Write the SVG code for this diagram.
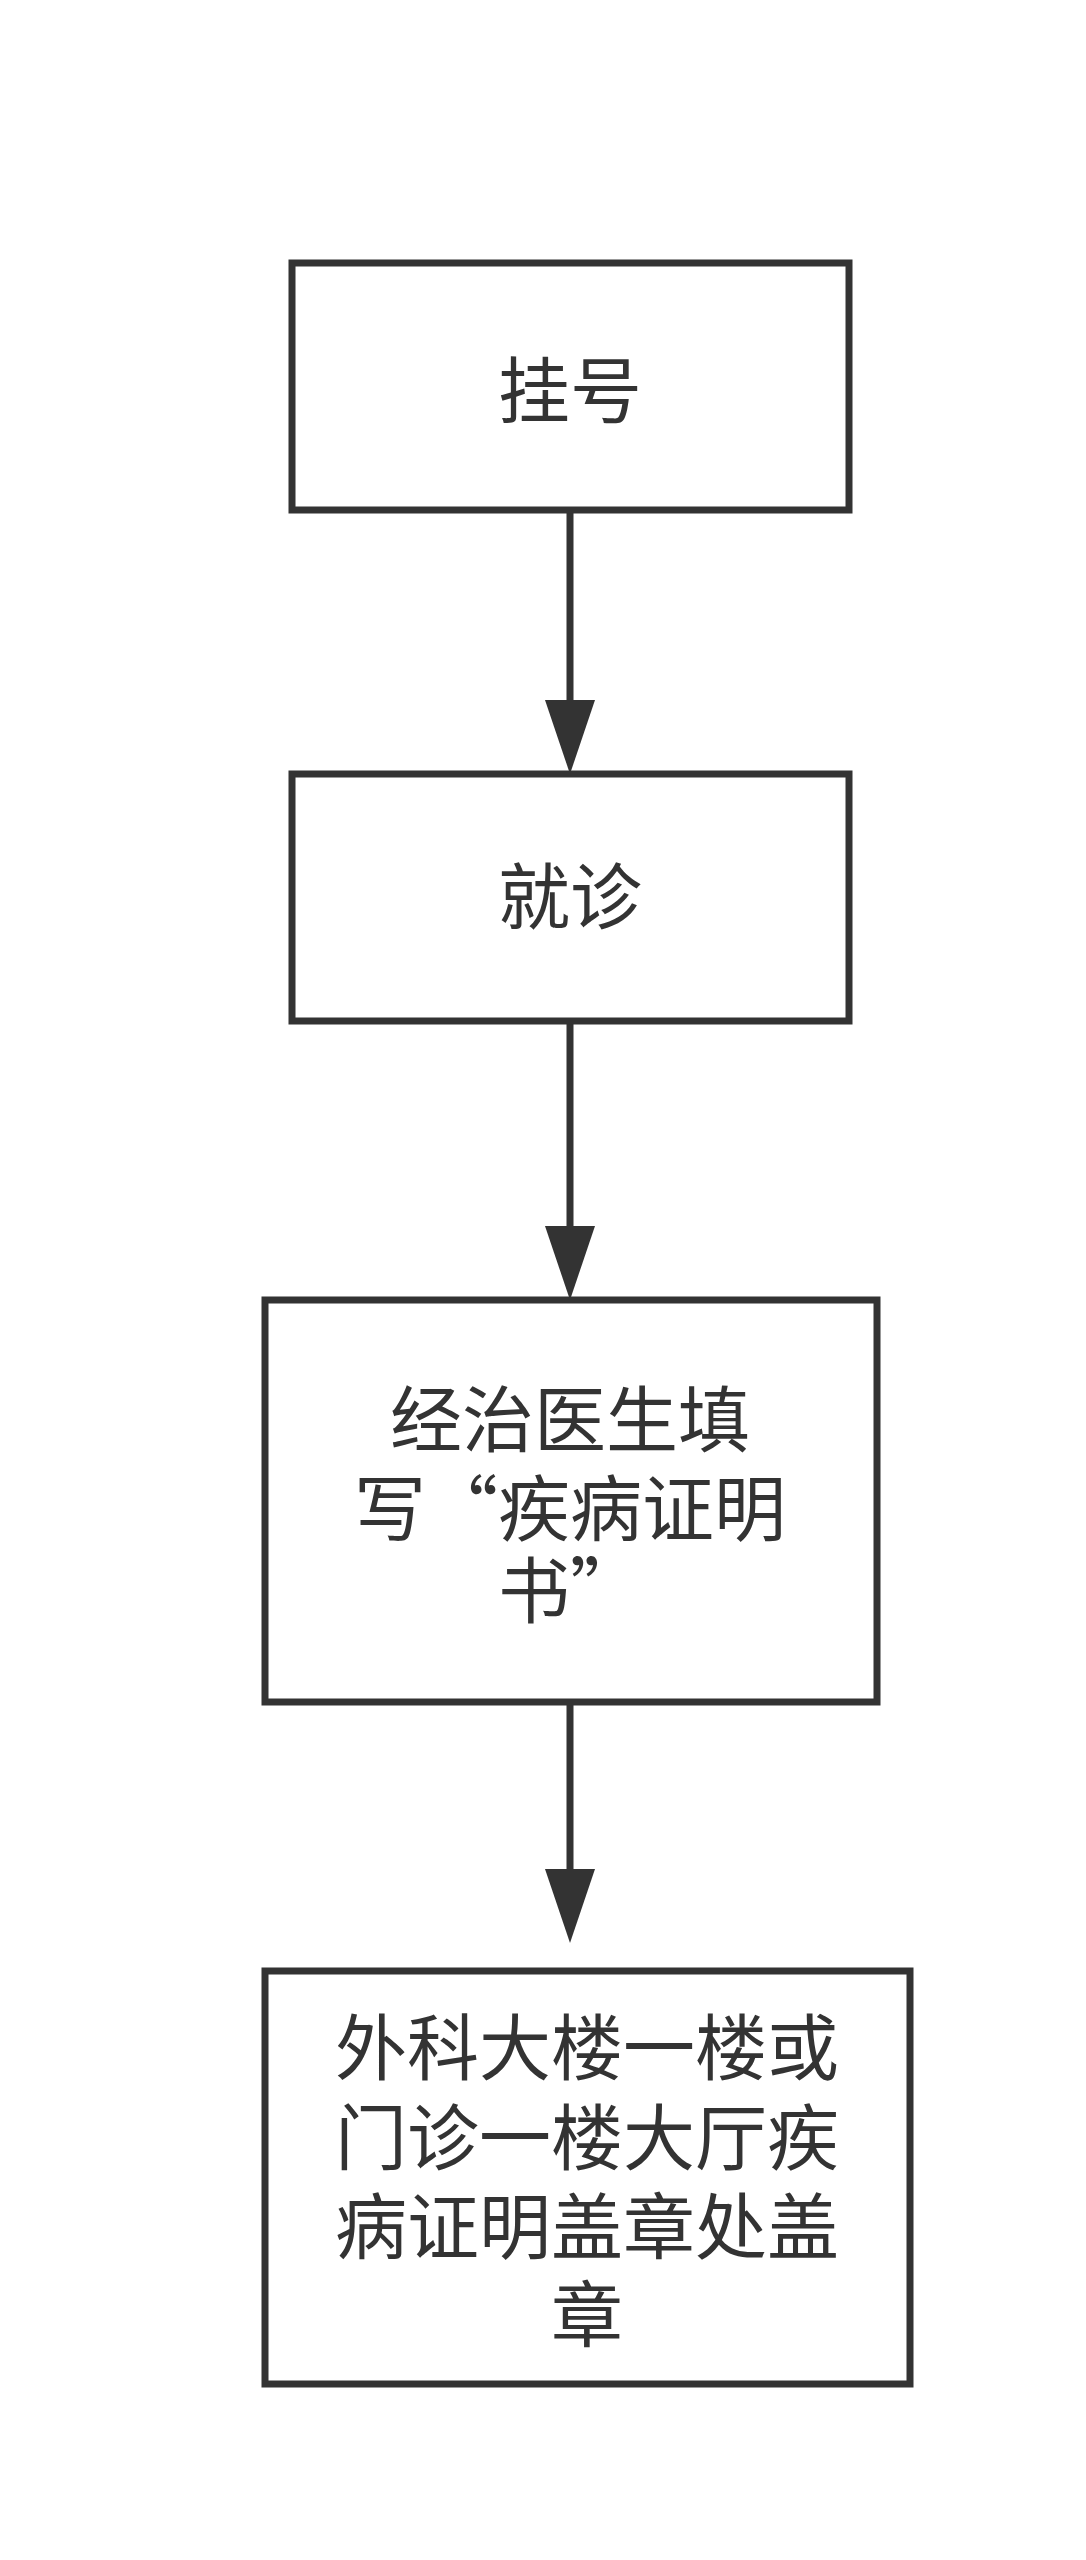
<svg xmlns="http://www.w3.org/2000/svg" width="1086" height="2560" viewBox="0 0 1086 2560">
<style>
.box{fill:#fff;stroke:#333;stroke-width:7}
.t{font-family:"Noto Sans CJK SC","Noto Sans",sans-serif;font-size:72px;fill:#333;text-anchor:middle}
.c{stroke:#333;stroke-width:7;fill:none}
.h{fill:#333}
</style>
<rect width="1086" height="2560" fill="#fff"/>
<g id="connectors">
<line class="c" x1="570" y1="510" x2="570" y2="710"/>
<polygon class="h" points="545,700 595,700 570,774"/>
<line class="c" x1="570" y1="1021" x2="570" y2="1235"/>
<polygon class="h" points="545,1226 595,1226 570,1300"/>
<line class="c" x1="570" y1="1702" x2="570" y2="1878"/>
<polygon class="h" points="545,1869 595,1869 570,1943"/>
</g>
<g id="n1">
<rect class="box" x="292" y="263" width="557" height="247"/>
<text class="t" x="570" y="417">挂号</text>
</g>
<g id="n2">
<rect class="box" x="292" y="774" width="557" height="247"/>
<text class="t" x="570" y="923">就诊</text>
</g>
<g id="n3">
<rect class="box" x="265" y="1300" width="612" height="402"/>
<text class="t" x="570" y="1446">经治医生填</text>
<text class="t" x="570" y="1535">写“疾病证明</text>
<text class="t" x="570" y="1617">书”</text>
</g>
<g id="n4">
<rect class="box" x="265" y="1971" width="645" height="413"/>
<text class="t" x="587" y="2074">外科大楼一楼或</text>
<text class="t" x="587" y="2164">门诊一楼大厅疾</text>
<text class="t" x="587" y="2253">病证明盖章处盖</text>
<text class="t" x="587" y="2341">章</text>
</g>
</svg>
